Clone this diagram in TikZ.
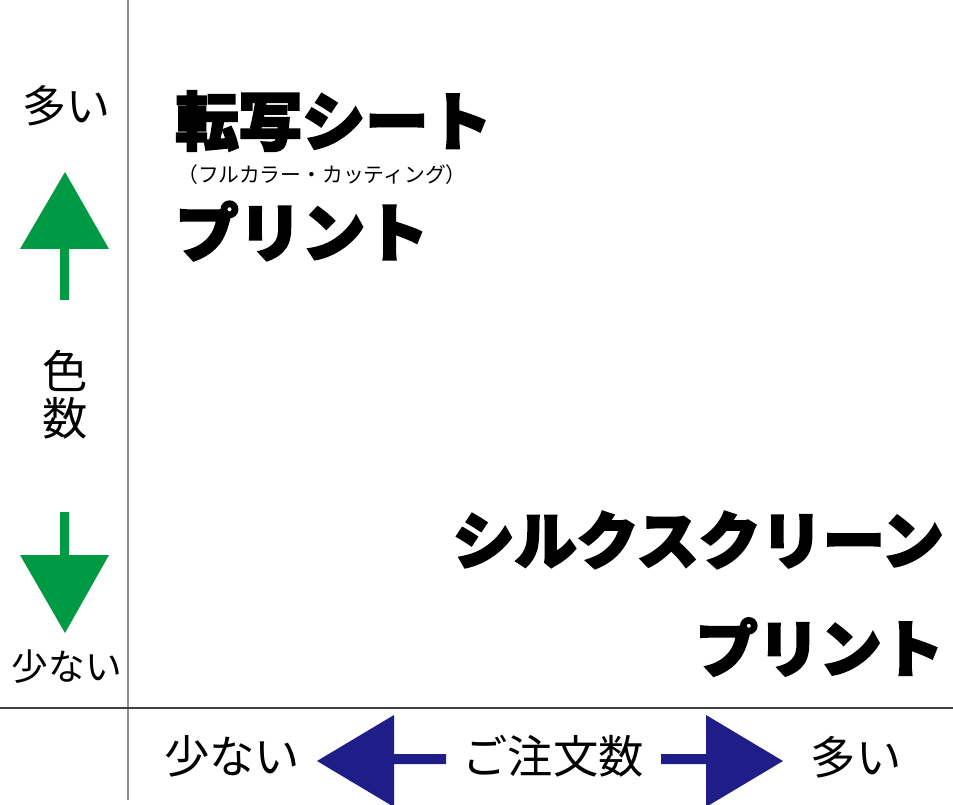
\documentclass[tikz,border=0pt]{standalone}
\usepackage{fontspec}
\newfontfamily\jp{Noto Sans CJK JP}
\newfontfamily\hv{Noto Sans CJK JP}[BoldFeatures={FakeBold=3.5}]
\definecolor{axgreen}{RGB}{0,154,68}
\definecolor{axblue}{RGB}{31,30,136}
\begin{document}
\begin{tikzpicture}[x=0.75pt,y=-0.75pt,
  lbl/.style={inner sep=0pt,font=\jp\fontsize{33}{33}\selectfont},
  big/.style={inner sep=0pt,font=\hv\bfseries\fontsize{47.5}{47.5}\selectfont},
  bigr/.style={inner sep=0pt,font=\hv\bfseries\fontsize{46.5}{46.5}\selectfont},
  sub/.style={inner sep=0pt,font=\jp\fontsize{15.6}{15.6}\selectfont}]
\useasboundingbox[fill=white] (0,0) rectangle (953,805);
% axes
\draw[line width=1.5pt,gray!90] (128,0) -- (128,800);
\draw[line width=1.2pt,black!75] (0,708) -- (953,708);
% green arrows
\fill[axgreen] (65,172) -- (109,249) -- (69,249) -- (69,300) -- (60,300) -- (60,249) -- (20,249) -- cycle;
\fill[axgreen] (65,633) -- (109,555) -- (69,555) -- (69,512) -- (60,512) -- (60,555) -- (20,555) -- cycle;
% blue arrows
\fill[axblue] (317,761) -- (394,715) -- (394,754) -- (446,754) -- (446,764) -- (394,764) -- (394,807) -- cycle;
\fill[axblue] (783,761) -- (706,715) -- (706,754) -- (661,754) -- (661,764) -- (706,764) -- (706,807) -- cycle;
% labels
\node[lbl] (many) at (66,106) {多い};
\node[lbl,font=\jp\fontsize{34}{34}\selectfont] (iro) at (65,371) {色};
\node[lbl,font=\jp\fontsize{34}{34}\selectfont] (su) at (65,418) {数};
\node[lbl,font=\jp\fontsize{27.5}{27.5}\selectfont] (few) at (67,667) {少ない};
\node[lbl,font=\jp\fontsize{34}{34}\selectfont] (fewx) at (232,756) {少ない};
\node[lbl,font=\jp\fontsize{34}{34}\selectfont] (order) at (553,756) {ご注文数};
\node[lbl,font=\jp\fontsize{34}{34}\selectfont] (manyx) at (856,757) {多い};
% products
\node[big,anchor=west] (tensha) at (175,121) {転写シート};
\node[sub] (full) at (322,175) {（フルカラー・カッティング）};
\node[big,anchor=west] (print1) at (175,231) {プリント};
\node[bigr,anchor=east] (silk) at (944,540) {シルクスクリーン};
\node[bigr,anchor=east] (print2) at (944,647) {プリント};
\end{tikzpicture}
\end{document}
